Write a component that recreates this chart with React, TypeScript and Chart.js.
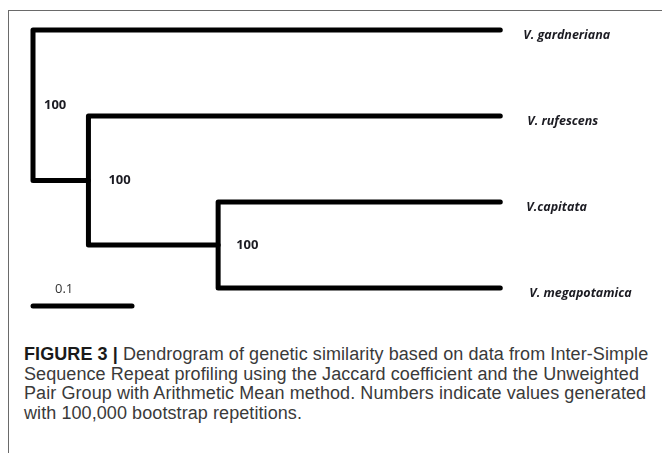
import React, { useEffect, useRef } from "react";
import { Chart, registerables } from "chart.js";

Chart.register(...registerables);

// ---- data ----
const taxa = ["V. gardneriana", "V. rufescens", "V.capitata", "V. megapotamica"];
// depth (distance from root, in scale-bar units) of the internal nodes of the ladder tree:
// root -> (gardneriana, node1); node1 -> (rufescens, node2); node2 -> (capitata, megapotamica)
const nodeDepths = [0, 0.056, 0.187];
const bootstrapValues = [100, 100, 100];
const tipDepth = 0.472;
const scaleBarLength = 0.1;
const scaleBarLabel = "0.1";
const scaleBarRow = 4.21;

const captionBold = "FIGURE 3 |";
const captionLines = [
  " Dendrogram of genetic similarity based on data from Inter-Simple",
  "Sequence Repeat profiling using the Jaccard coefficient and the Unweighted",
  "Pair Group with Arithmetic Mean method. Numbers indicate values generated",
  "with 100,000 bootstrap repetitions.",
];

// ---- style / layout (not data) ----
const bootstrapLabelDx = [11, 20, 18];
const taxonLabelDx = [23, 27, 26, 29];

// ---- tree layout helpers ----
function buildTree() {
  const n = taxa.length;
  const leafY = taxa.map((_, i) => i + 1);
  const nodeY: number[] = new Array(nodeDepths.length).fill(0);
  for (let k = nodeDepths.length - 1; k >= 0; k--) {
    const c1y = leafY[k];
    const c2y = k === nodeDepths.length - 1 ? leafY[n - 1] : nodeY[k + 1];
    nodeY[k] = (c1y + c2y) / 2;
  }
  const paths: { x: number; y: number }[][] = [];
  for (let k = 0; k < nodeDepths.length; k++) {
    const nx = nodeDepths[k];
    const c1 = { x: tipDepth, y: leafY[k] };
    const c2 =
      k === nodeDepths.length - 1
        ? { x: tipDepth, y: leafY[n - 1] }
        : { x: nodeDepths[k + 1], y: nodeY[k + 1] };
    paths.push([c1, { x: nx, y: c1.y }, { x: nx, y: c2.y }, c2]);
  }
  return { leafY, nodeY, paths };
}

export default function App() {
  const canvasRef = useRef<HTMLCanvasElement | null>(null);

  useEffect(() => {
    const canvas = canvasRef.current;
    if (!canvas) return;
    const { leafY, nodeY, paths } = buildTree();

    const lineStyle = {
      showLine: true,
      borderColor: "#000",
      borderWidth: 5,
      pointRadius: 0,
      borderCapStyle: "round" as const,
      borderJoinStyle: "round" as const,
      fill: false,
      tension: 0,
    };

    const datasets: any[] = paths.map((p) => ({ ...lineStyle, data: p }));
    datasets.push({
      ...lineStyle,
      data: [
        { x: 0, y: scaleBarRow },
        { x: scaleBarLength, y: scaleBarRow },
      ],
    });

    const labelPlugin = {
      id: "treeLabels",
      afterDatasetsDraw(chart: any) {
        const ctx = chart.ctx;
        const xs = chart.scales.x;
        const ys = chart.scales.y;
        ctx.save();
        ctx.fillStyle = "#1b1b22";
        ctx.textBaseline = "middle";
        ctx.textAlign = "left";
        ctx.font = "italic bold 12.5px 'Open Sans'";
        taxa.forEach((t, i) => {
          ctx.fillText(t, xs.getPixelForValue(tipDepth) + taxonLabelDx[i], ys.getPixelForValue(leafY[i]) + 5);
        });
        ctx.font = "bold 13px 'Open Sans'";
        bootstrapValues.forEach((v, k) => {
          ctx.fillText(String(v), xs.getPixelForValue(nodeDepths[k]) + bootstrapLabelDx[k], ys.getPixelForValue(nodeY[k]));
        });
        ctx.font = "13px 'Open Sans'";
        ctx.fillStyle = "#333";
        ctx.fillText(scaleBarLabel, xs.getPixelForValue(0) + 22, ys.getPixelForValue(scaleBarRow) - 17);
        ctx.restore();
      },
    };

    const chart = new Chart(canvas, {
      type: "scatter",
      data: { datasets },
      options: {
        animation: false,
        responsive: false,
        devicePixelRatio: 1,
        layout: { padding: 0 },
        events: [],
        plugins: { legend: { display: false }, tooltip: { enabled: false }, title: { display: false } },
        scales: {
          x: { type: "linear", display: false, min: -33 / 990, max: 629 / 990 },
          y: { type: "linear", display: false, reverse: true, min: 1 - 30 / 86, max: 1 + 300 / 86 },
        },
      },
      plugins: [labelPlugin],
    });
    return () => chart.destroy();
  }, []);

  return (
    <div style={{ position: "absolute", left: 0, top: 0, width: 662, height: 453, background: "#fff", overflow: "hidden" }}>
      <div
        style={{
          position: "absolute",
          left: 8,
          top: 10,
          width: 660,
          height: 450,
          borderTop: "1px solid #6a6a6a",
          borderLeft: "1px solid #6a6a6a",
        }}
      />
      <canvas ref={canvasRef} width={662} height={330} style={{ position: "absolute", left: 0, top: 0 }} />
      <div
        style={{
          position: "absolute",
          left: 24,
          top: 345,
          fontFamily: "'Liberation Sans', Arial, sans-serif",
          fontSize: 18,
          letterSpacing: "0.08px",
          lineHeight: "19.6px",
          color: "#3a3a3a",
          whiteSpace: "nowrap",
        }}
      >
        {captionLines.map((line, i) => (
          <div key={i}>
            {i === 0 && <b style={{ color: "#1a1a1a" }}>{captionBold}</b>}
            {line}
          </div>
        ))}
      </div>
    </div>
  );
}
